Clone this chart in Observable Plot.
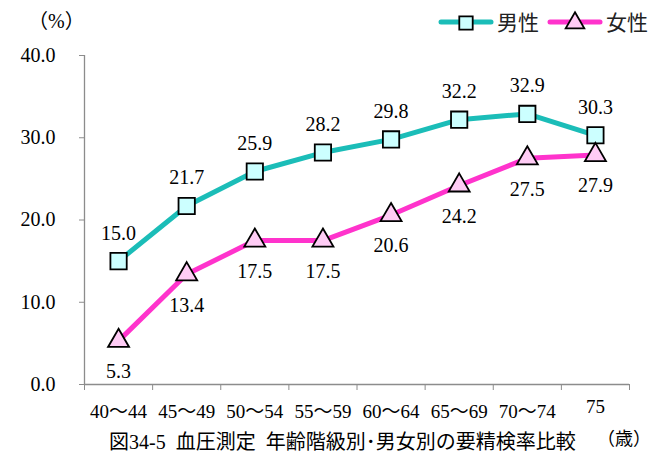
<!DOCTYPE html>
<html><head><meta charset="utf-8">
<script src="https://cdn.jsdelivr.net/npm/d3@7"></script>
<script src="https://cdn.jsdelivr.net/npm/@observablehq/plot@0.6"></script>
<style>
body{margin:0;background:#fff;font-family:"Liberation Serif","DejaVu Serif","Noto Sans CJK JP",serif;color:#000;}
#wrap{position:relative;width:665px;height:456px;overflow:hidden;}
#chart{position:absolute;left:0;top:0;}
.abs{position:absolute;white-space:nowrap;line-height:1;}
#chart svg text{font-family:"Liberation Serif","DejaVu Serif","Noto Sans CJK JP",serif;}
</style></head><body>
<div id="wrap">
  <div id="chart"></div>
  <div class="abs" id="unit" style="left:28px;top:11px;font-size:20px;">（%）</div>
  <svg class="abs" id="legend" style="left:436px;top:6px;" width="229" height="34"></svg>
  <div class="abs" id="caption" style="left:109px;top:432px;font-size:20px;">図34-5&#8194;血圧測定&#8194;年齢階級別･男女別の要精検率比較</div>
  <div class="abs" id="unitx" style="left:597px;top:430px;font-size:18px;">（歳）</div>
</div>
<script>
const ageGroups = ["40～44","45～49","50～54","55～59","60～64","65～69","70～74","75"];
const male = [15.0,21.7,25.9,28.2,29.8,32.2,32.9,30.3];
const female = [5.3,13.4,17.5,17.5,20.6,24.2,27.5,27.9];
const yTicks = [0,10,20,30,40];
const seriesNames = ["男性","女性"];
const maleColor = "#1bbdb8", femaleColor = "#ff33cc";
const maleFill = "#ccffff", femaleFill = "#ffccf5";

const rows = ageGroups.map((g,i)=>({i, g, male: male[i], female: female[i]}));
const cx = d => d.i + 0.5;
const axisGray = "#8c8c8c";
const font = "'Liberation Serif','DejaVu Serif','Noto Sans CJK JP',serif";
const centers = ageGroups.map((g,i)=>i+0.5);
const last = centers.length - 1;

const plot = Plot.plot({
  width: 665, height: 425,
  marginTop: 55, marginBottom: 41, marginLeft: 84, marginRight: 36,
  style: {fontFamily: font, fontSize: "20px", color: "#000", background: "transparent", overflow: "visible"},
  x: {domain: [0, ageGroups.length], axis: null},
  y: {domain: [0, 40], axis: null},
  marks: [
    Plot.axisY({ticks: yTicks, tickSize: 5, tickPadding: 24, tickFormat: d => d.toFixed(1), stroke: axisGray, fill: "#000", label: null, fontSize: 20}),
    Plot.axisX({ticks: d3.range(ageGroups.length + 1), tickSize: 6, tickFormat: () => "", stroke: axisGray, label: null}),
    Plot.axisX({ticks: centers.slice(0, last), tickSize: 0, tickPadding: 20, tickFormat: v => ageGroups[Math.floor(v)], fill: "#000", label: null, fontSize: 19}),
    Plot.axisX({ticks: centers.slice(last), tickSize: 0, tickPadding: 15, tickFormat: v => ageGroups[Math.floor(v)], fill: "#000", label: null, fontSize: 19}),
    Plot.ruleX([0], {stroke: axisGray, strokeWidth: 1.3}),
    Plot.ruleY([0], {stroke: axisGray, strokeWidth: 1.3}),
    Plot.line(rows, {x: cx, y: "male", stroke: maleColor, strokeWidth: 5}),
    Plot.line(rows, {x: cx, y: "female", stroke: femaleColor, strokeWidth: 5}),
    Plot.dot(rows, {x: cx, y: "male", symbol: "square", r: 9.2, fill: maleFill, stroke: "#000", strokeWidth: 1.8}),
    Plot.dot(rows, {x: cx, y: "female", symbol: "triangle", r: 7.8, fill: femaleFill, stroke: "#000", strokeWidth: 1.8}),
    Plot.text(rows, {x: cx, y: "male", text: d => d.male.toFixed(1), dy: -28, fontSize: 20}),
    Plot.text(rows, {x: cx, y: "female", text: d => d.female.toFixed(1), dy: 31, fontSize: 20})
  ]
});
document.getElementById("chart").appendChild(plot);

// legend
const lg = d3.select("#legend");
const items = [
  {name: seriesNames[0], color: maleColor, fill: maleFill, sym: d3.symbolSquare, size: 180, x0: 5},
  {name: seriesNames[1], color: femaleColor, fill: femaleFill, sym: d3.symbolTriangle, size: 150, x0: 114}
];
items.forEach(it => {
  const g = lg.append("g").attr("transform", `translate(${it.x0},16)`);
  g.append("line").attr("x1", 0).attr("x2", 50).attr("y1", 0).attr("y2", 0)
    .attr("stroke", it.color).attr("stroke-width", 5).attr("stroke-linecap", "round");
  g.append("path").attr("d", d3.symbol(it.sym, it.size)()).attr("transform", "translate(25,1)")
    .attr("fill", it.fill).attr("stroke", "#000").attr("stroke-width", 1.8);
  g.append("text").attr("x", 56).attr("y", 8).text(it.name)
    .attr("font-size", 21).attr("font-family", "'Noto Sans CJK JP',sans-serif").attr("fill", "#222");
});
</script>
</body></html>
